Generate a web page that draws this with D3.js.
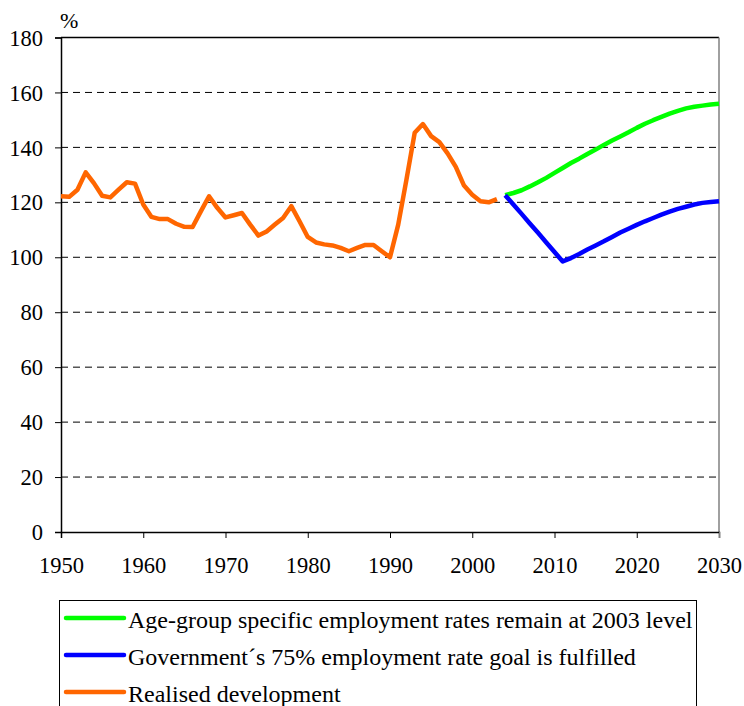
<!DOCTYPE html>
<html>
<head>
<meta charset="utf-8">
<script src="https://cdn.jsdelivr.net/npm/d3@7"></script>
</head>
<body style="margin:0">
<svg id="fig" width="744" height="706"></svg>
<script>
// realised development, 1950-2003
const realisedYears = d3.range(1950, 2004)
const realised = [
  122.2, 122, 124.6, 130.9, 127, 122.4, 121.8, 124.6, 127.3, 126.8,
  119.2, 114.7, 113.9, 113.9, 112.2, 111.1, 111, 116.7, 122.2, 118,
  114.5, 115.3, 116.1, 111.9, 107.9, 109.4, 111.9, 114.3, 118.6, 113.1,
  107.4, 105.4, 104.7, 104.3, 103.4, 102.2, 103.4, 104.5, 104.5, 102.2,
  100, 111.9, 128.3, 145.3, 148.5, 144.1, 141.9, 137.8, 132.9, 126.1,
  122.8, 120.4, 120, 121.2,
]
// projections 2004-2030
const projYears = d3.range(2004, 2031)
const constantRates = [
  122.6, 123.4, 124.4, 125.8, 127.3, 128.9, 130.7, 132.5, 134.3, 135.9,
  137.6, 139.2, 140.9, 142.5, 144, 145.5, 147.1, 148.6, 149.9, 151.1,
  152.3, 153.3, 154.2, 154.8, 155.2, 155.6, 155.9,
]
const govGoal = [
  122.6, 119.2, 115.8, 112.3, 108.9, 105.4, 101.9, 98.5, 99.7, 101.2,
  102.8, 104.3, 105.8, 107.4, 109, 110.4, 111.8, 113.1, 114.3, 115.5,
  116.6, 117.6, 118.4, 119.2, 119.8, 120.1, 120.4,
]
const yTicks = d3.range(0, 181, 20)
const xTicks = d3.range(1950, 2031, 10)
const legendLabels = [
  'Age-group specific employment rates remain at 2003 level',
  'Government\u00b4s 75% employment rate goal is fulfilled',
  'Realised development',
]
const colors = ['#00ff00', '#0000ff', '#ff6600']

const serifFont = '"Liberation Serif"'
const svg = d3.select('#fig')
const plotLeft = 61, plotRight = 719, plotTop = 37.5, plotBottom = 532

const x = d3.scaleLinear().domain([1950, 2030]).range([plotLeft, plotRight])
const y = d3.scaleLinear().domain([0, 180]).range([plotBottom, plotTop])

// gridlines
svg.append('g')
  .selectAll('line')
  .data(yTicks.filter((d) => d > 0 && d < 180))
  .join('line')
  .attr('x1', plotLeft).attr('x2', plotRight)
  .attr('y1', (d) => y(d)).attr('y2', (d) => y(d))
  .attr('stroke', '#000')
  .attr('stroke-width', 1)
  .attr('stroke-dasharray', '7,5')

// plot frame top + right
svg.append('line')
  .attr('x1', plotLeft).attr('x2', plotRight).attr('y1', plotTop).attr('y2', plotTop)
  .attr('stroke', '#000').attr('stroke-width', 1.5)
svg.append('line')
  .attr('x1', plotRight).attr('x2', plotRight).attr('y1', plotTop).attr('y2', plotBottom)
  .attr('stroke', '#808080').attr('stroke-width', 1.5)

// axes
const yAxis = svg.append('g')
  .attr('transform', `translate(${plotLeft},0)`)
  .call(d3.axisLeft(y).tickValues(yTicks).tickSize(6).tickPadding(12))
const xAxis = svg.append('g')
  .attr('transform', `translate(0,${plotBottom})`)
  .call(d3.axisBottom(x).tickValues(xTicks).tickFormat(d3.format('d')).tickSize(6).tickPadding(19))

for (const ax of [yAxis, xAxis]) {
  ax.select('.domain').attr('stroke', '#000').attr('stroke-width', 1.5)
  ax.selectAll('.tick line').attr('stroke', '#000').attr('stroke-width', 1)
  ax.selectAll('.tick text')
    .style('font-family', serifFont)
    .style('font-size', '22.5px')
    .attr('fill', '#000')
}
yAxis.selectAll('.tick text').attr('dy', '0.34em')
xAxis.select('.tick:last-of-type line').attr('stroke', '#808080')

svg.append('text')
  .attr('x', 60).attr('y', 28)
  .style('font-family', serifFont)
  .style('font-size', '22px')
  .text('%')

// lines
const line = d3.line()
  .x((d) => x(d[0]))
  .y((d) => y(d[1]))

const seriesList = [
  projYears.map((yr, i) => [yr, constantRates[i]]),
  projYears.map((yr, i) => [yr, govGoal[i]]),
  realisedYears.map((yr, i) => [yr, realised[i]]),
]

svg.append('g')
  .selectAll('path')
  .data(seriesList)
  .join('path')
  .attr('d', line)
  .attr('fill', 'none')
  .attr('stroke', (d, i) => colors[i])
  .attr('stroke-width', 4.5)
  .attr('stroke-linejoin', 'round')

// legend
const legend = svg.append('g')
legend.append('rect')
  .attr('x', 59.5).attr('y', 600.5)
  .attr('width', 637).attr('height', 120)
  .attr('fill', '#fff')
  .attr('stroke', '#000')
  .attr('stroke-width', 1)

const items = legend.selectAll('g.item')
  .data(legendLabels)
  .join('g')
  .attr('class', 'item')
  .attr('transform', (d, i) => `translate(0,${618 + i * 37})`)
items.append('line')
  .attr('x1', 66).attr('x2', 124)
  .attr('stroke', (d, i) => colors[i])
  .attr('stroke-width', 4.5)
  .attr('stroke-linecap', 'round')
items.append('text')
  .attr('x', 128).attr('y', 0)
  .attr('dy', '0.4em')
  .style('font-family', serifFont)
  .style('font-size', '24px')
  .text((d) => d)
</script>
</body>
</html>
